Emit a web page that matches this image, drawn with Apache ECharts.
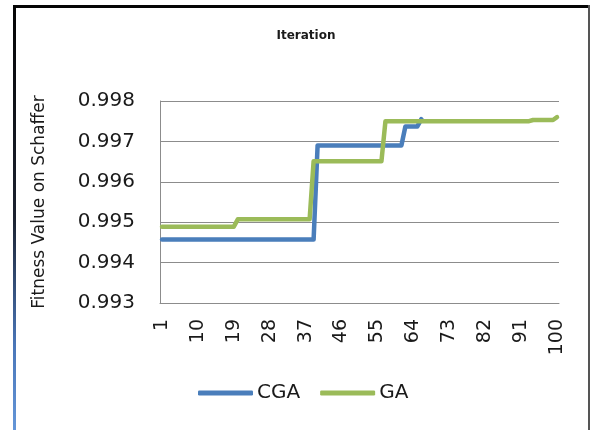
<!DOCTYPE html>
<html>
<head>
<meta charset="utf-8">
<script src="https://cdn.jsdelivr.net/npm/echarts@6/dist/echarts.min.js"></script>
<style>
  html, body { margin: 0; padding: 0; background: #fff; }
  #chart { width: 590px; height: 430px; }
</style>
</head>
<body>
<div id="chart"></div>
<script>
// Iterations 1..100
const iterations = [];
for (let i = 1; i <= 100; i++) iterations.push(String(i));

// Best fitness per iteration, chaotic GA (run stops at iteration 66)
const cgaValues = [
  0.99457, 0.99457, 0.99457, 0.99457, 0.99457, 0.99457, 0.99457, 0.99457, 0.99457, 0.99457,
  0.99457, 0.99457, 0.99457, 0.99457, 0.99457, 0.99457, 0.99457, 0.99457, 0.99457, 0.99457,
  0.99457, 0.99457, 0.99457, 0.99457, 0.99457, 0.99457, 0.99457, 0.99457, 0.99457, 0.99457,
  0.99457, 0.99457, 0.99457, 0.99457, 0.99457, 0.99457, 0.99457, 0.99457, 0.99457, 0.99690,
  0.99690, 0.99690, 0.99690, 0.99690, 0.99690, 0.99690, 0.99690, 0.99690, 0.99690, 0.99690,
  0.99690, 0.99690, 0.99690, 0.99690, 0.99690, 0.99690, 0.99690, 0.99690, 0.99690, 0.99690,
  0.99690, 0.99737, 0.99737, 0.99737, 0.99737, 0.99755
];

// Best fitness per iteration, standard GA
const gaValues = [
  0.99489, 0.99489, 0.99489, 0.99489, 0.99489, 0.99489, 0.99489, 0.99489, 0.99489, 0.99489,
  0.99489, 0.99489, 0.99489, 0.99489, 0.99489, 0.99489, 0.99489, 0.99489, 0.99489, 0.99507,
  0.99507, 0.99507, 0.99507, 0.99507, 0.99507, 0.99507, 0.99507, 0.99507, 0.99507, 0.99507,
  0.99507, 0.99507, 0.99507, 0.99507, 0.99507, 0.99507, 0.99507, 0.99507, 0.99651, 0.99651,
  0.99651, 0.99651, 0.99651, 0.99651, 0.99651, 0.99651, 0.99651, 0.99651, 0.99651, 0.99651,
  0.99651, 0.99651, 0.99651, 0.99651, 0.99651, 0.99651, 0.99750, 0.99750, 0.99750, 0.99750,
  0.99750, 0.99750, 0.99750, 0.99750, 0.99750, 0.99750, 0.99750, 0.99750, 0.99750, 0.99750,
  0.99750, 0.99750, 0.99750, 0.99750, 0.99750, 0.99750, 0.99750, 0.99750, 0.99750, 0.99750,
  0.99750, 0.99750, 0.99750, 0.99750, 0.99750, 0.99750, 0.99750, 0.99750, 0.99750, 0.99750,
  0.99750, 0.99750, 0.99750, 0.99753, 0.99753, 0.99753, 0.99753, 0.99753, 0.99753, 0.99760
];

const yMin = 0.993;
const yMax = 0.998;
const yStep = 0.001;

const FONT = '"DejaVu Sans", "Open Sans", sans-serif';
const TEXT = '#1a1a1a';
const GRID = '#8c8c8c';

const chart = echarts.init(document.getElementById('chart'), null, { renderer: 'canvas' });

chart.setOption({
  animation: false,
  backgroundColor: '#ffffff',
  title: {
    text: 'Iteration',
    left: 301,
    top: 25,
    textAlign: 'center',
    textStyle: { fontFamily: FONT, fontSize: 12, fontWeight: 'bold', color: TEXT }
  },
  grid: { left: 160, right: 31, top: 101, bottom: 127 },
  xAxis: {
    type: 'category',
    data: iterations,
    boundaryGap: true,
    axisLine: { lineStyle: { color: GRID, width: 1 } },
    axisTick: { show: false },
    axisLabel: {
      interval: 8,
      rotate: 90,
      margin: 16,
      fontFamily: FONT,
      fontSize: 19,
      color: TEXT
    },
    splitLine: { show: false }
  },
  yAxis: {
    type: 'value',
    min: yMin,
    max: yMax,
    interval: yStep,
    name: 'Fitness Value on Schaffer',
    nameLocation: 'middle',
    nameGap: 112,
    nameRotate: 90,
    nameTextStyle: { fontFamily: FONT, fontSize: 17, color: TEXT },
    axisLine: { show: true, lineStyle: { color: GRID, width: 1 } },
    axisTick: { show: false },
    axisLabel: {
      margin: 25,
      fontFamily: FONT,
      fontSize: 20,
      color: TEXT,
      formatter: v => v.toFixed(3)
    },
    splitLine: { show: true, lineStyle: { color: GRID, width: 1 } }
  },
  legend: {
    left: 193,
    top: 378,
    itemWidth: 55,
    itemHeight: 5,
    itemGap: 20,
    icon: 'roundRect',
    textStyle: { fontFamily: FONT, fontSize: 20, color: TEXT, padding: [0, 0, 0, -1] },
    data: ['CGA', 'GA']
  },
  series: [
    {
      name: 'CGA',
      type: 'line',
      data: cgaValues,
      symbol: 'none',
      lineStyle: { color: '#4a7ebb', width: 4.5, cap: 'round', join: 'round' },
      itemStyle: { color: '#4a7ebb' },
      z: 2
    },
    {
      name: 'GA',
      type: 'line',
      data: gaValues,
      symbol: 'none',
      lineStyle: { color: '#9bbb59', width: 4.5, cap: 'round', join: 'round' },
      itemStyle: { color: '#9bbb59' },
      z: 3
    }
  ],
  graphic: [
    {
      type: 'rect',
      shape: { x: 13, y: 5, width: 577, height: 3 },
      style: { fill: '#050505' },
      silent: true
    },
    {
      type: 'rect',
      shape: { x: 13, y: 5, width: 3, height: 425 },
      style: {
        fill: {
          type: 'linear', x: 0, y: 0, x2: 0, y2: 1,
          colorStops: [
            { offset: 0, color: '#050505' },
            { offset: 0.5, color: '#1c2230' },
            { offset: 0.8, color: '#4a76b8' },
            { offset: 1, color: '#6496d8' }
          ]
        }
      },
      silent: true
    },
    {
      type: 'rect',
      shape: { x: 588, y: 5, width: 2, height: 425 },
      style: { fill: '#555' },
      silent: true
    }
  ]
});
</script>
</body>
</html>
